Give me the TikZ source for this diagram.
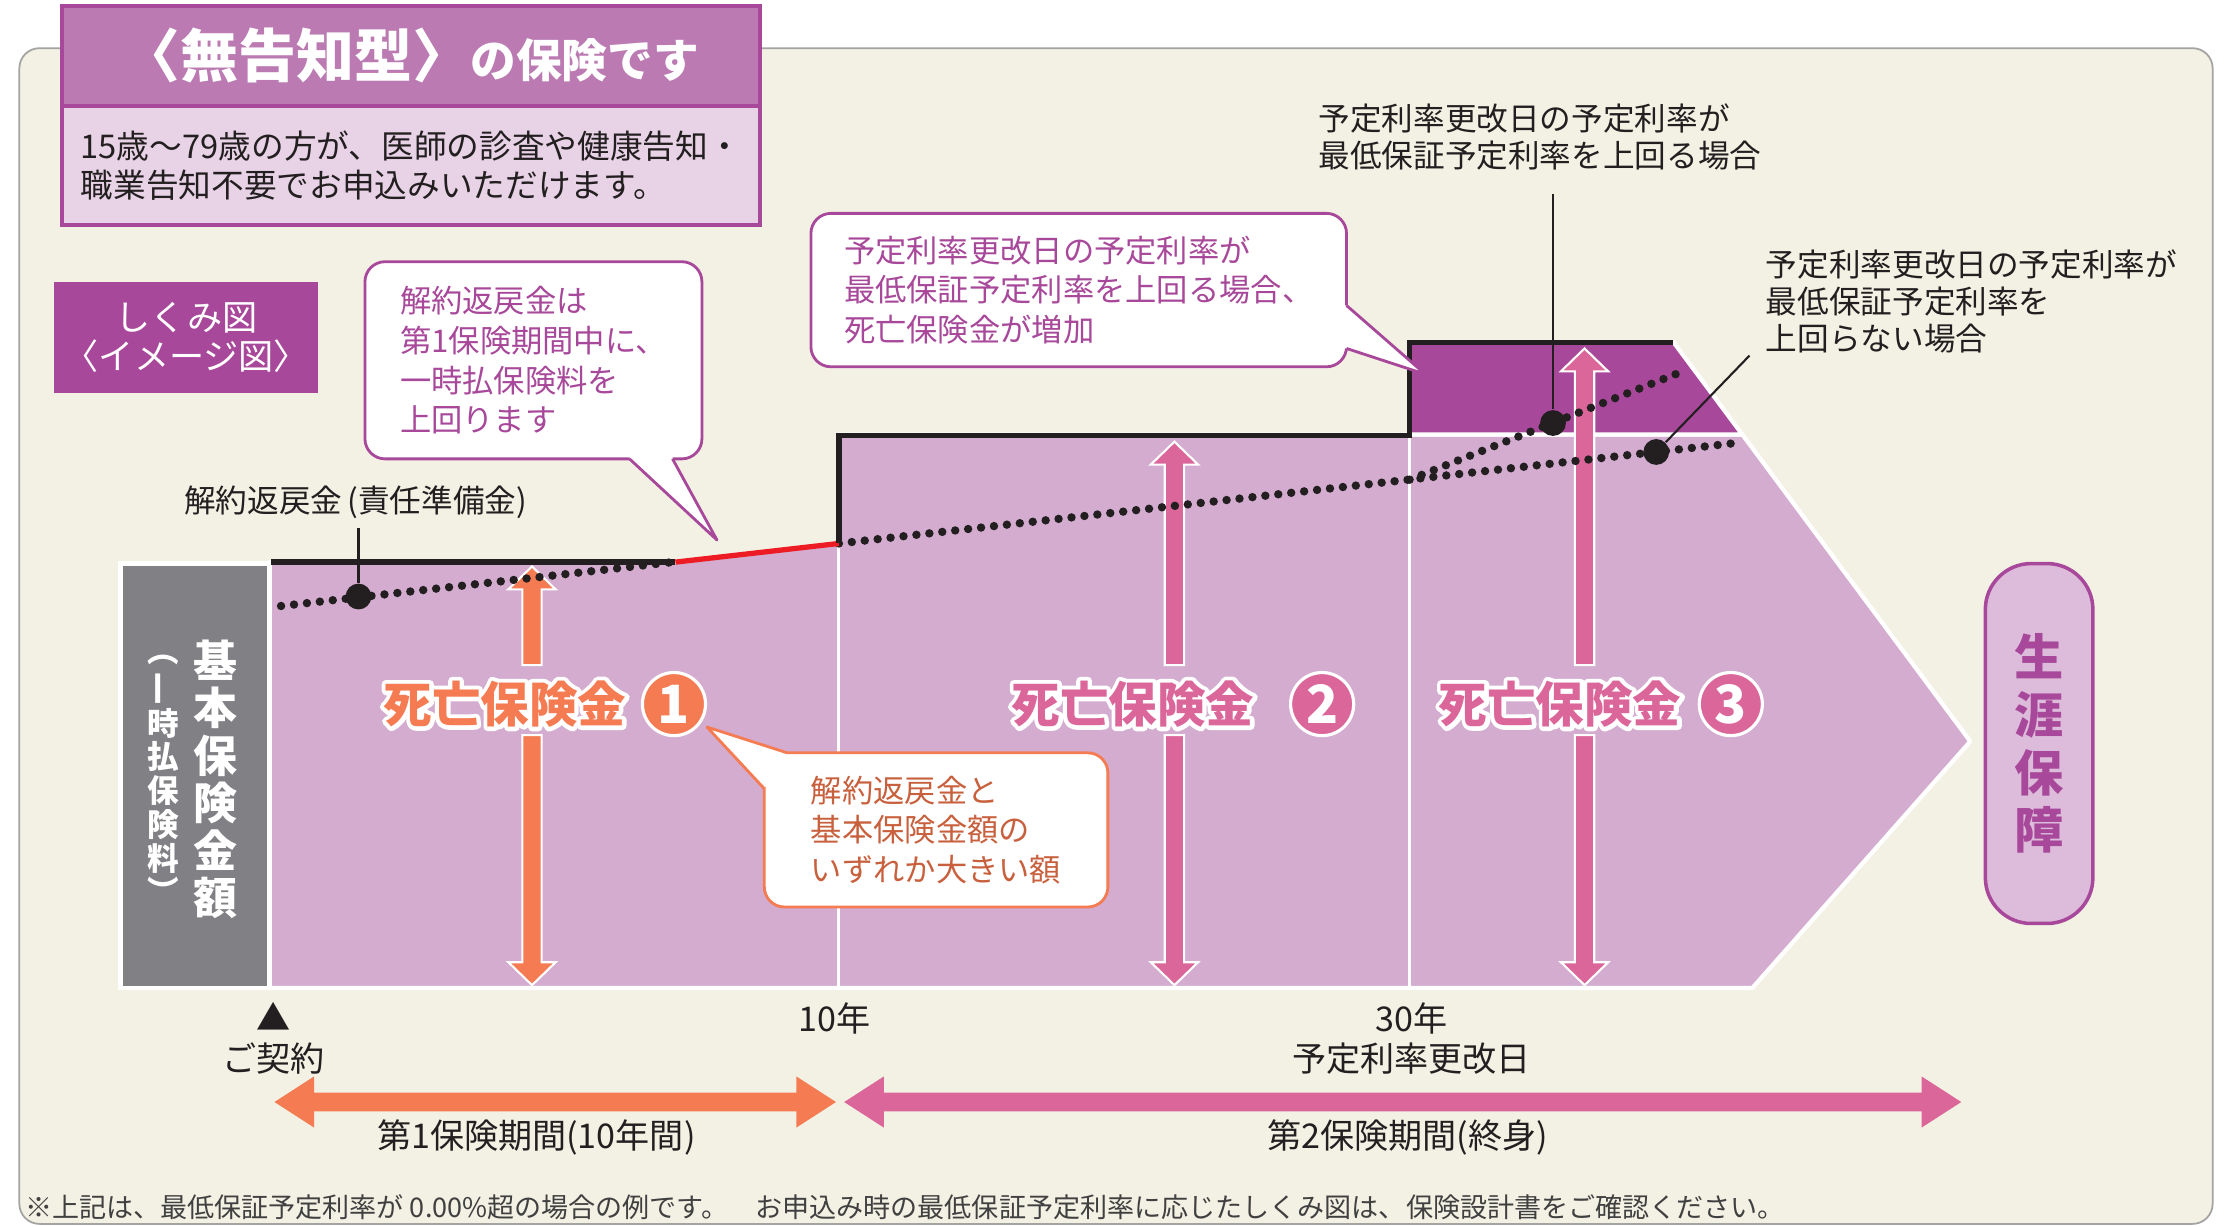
\documentclass[tikz,border=0pt]{standalone}
\usepackage{fontspec}
\setmainfont{Noto Sans CJK JP}
\usetikzlibrary{positioning}
\newlength{\dpx}
\setlength{\dpx}{0.1434mm}
\newcommand{\halotext}[1]{\rlap{\special{pdf:literal direct 1 1 1 RG 2.4 w 1 j 1 Tr}#1\special{pdf:literal direct 0 Tr}}#1}
\definecolor{bgcream}{HTML}{F3F1E4}
\definecolor{framegray}{HTML}{A3A3A0}
\definecolor{lilac}{HTML}{D3ACCF}
\definecolor{deeppurple}{HTML}{A8489A}
\definecolor{titlepurple}{HTML}{BB7AB2}
\definecolor{titlepink}{HTML}{E8D3E6}
\definecolor{boxgray}{HTML}{808085}
\definecolor{lifeorange}{HTML}{F47B52}
\definecolor{lifepink}{HTML}{DB6699}
\definecolor{calloutbrown}{HTML}{C8603D}
\definecolor{lifebox}{HTML}{DCBBDB}
\definecolor{reservered}{HTML}{ED1C24}
\definecolor{inkgray}{HTML}{231F20}
\definecolor{notegray}{HTML}{404040}
\tikzstyle{balloon}=[
	rectangle,
	rounded corners=14\dpx,
	fill=white,
	line width=0.8pt,
	align=left,
	inner sep=0pt,
	font=\fontsize{8.9}{11.3}\selectfont
]
\tikzstyle{plainlabel}=[
	inner sep=0pt,
	text=inkgray,
	font=\fontsize{9}{10.5}\selectfont
]
\tikzstyle{bottomlabel}=[
	inner sep=0pt,
	text=inkgray,
	font=\fontsize{9.7}{11.4}\selectfont
]
\tikzstyle{deathlabel}=[
	inner sep=0pt,
	font=\bfseries\fontsize{13.8}{14}\selectfont
]
\tikzstyle{numberdisc}=[
	circle,
	draw=white,
	line width=0.9pt,
	minimum size=44\dpx,
	inner sep=0pt,
	text=white,
	font=\bfseries\fontsize{15}{15}\selectfont
]
\tikzstyle{dotline}=[
	line width=2.4pt,
	line cap=round,
	dash pattern=on 0pt off 3.7pt,
	inkgray
]
\tikzstyle{stepline}=[
	line width=1.5pt,
	inkgray
]
\tikzstyle{bigdot}=[
	circle,
	fill=inkgray,
	inner sep=0pt,
	minimum size=18\dpx
]
\tikzstyle{pointer}=[
	line width=0.6pt,
	inkgray
]
\newcommand{\riseup}[3]{%
	\filldraw[fill=#3, draw=white, line width=0.6pt] (#1-6.75,463.8) -- (#1-6.75,#2+16) -- (#1-16.5,#2+16) -- (#1,#2) -- (#1+16.5,#2+16) -- (#1+6.75,#2+16) -- (#1+6.75,463.8) -- cycle;}
\newcommand{\dropdown}[2]{%
	\filldraw[fill=#2, draw=white, line width=0.6pt] (#1-6.75,512.6) -- (#1-6.75,671) -- (#1-16.5,671) -- (#1,687) -- (#1+16.5,671) -- (#1+6.75,671) -- (#1+6.75,512.6) -- cycle;}
\newcommand{\periodarrow}[3]{%
	\fill[#3] (#1,768.5) -- (#1+27.6,750.7) -- (#1+27.6,762) -- (#2-27.6,762) -- (#2-27.6,750.7) -- (#2,768.5) -- (#2-27.6,786.3) -- (#2-27.6,775) -- (#1+27.6,775) -- (#1+27.6,786.3) -- cycle;}

\begin{document}
\begin{tikzpicture}[x=0.1434mm, y=-0.1434mm]
\useasboundingbox (0,0) rectangle (1560,855);
\fill[white] (0,0) rectangle (1560,855);
\filldraw[fill=bgcream, draw=framegray, line width=0.5pt, rounded corners=14\dpx] (13.5,33.6) rectangle (1543,853.5);

\node[rectangle, fill=titlepurple, draw=deeppurple, line width=1.2pt, minimum width=487\dpx, minimum height=70\dpx, inner sep=0pt, text=white] (TitleBar) at (286.5,39)
	{{\bfseries\fontsize{16.5}{16}\selectfont 〈無告知型〉}{\bfseries\fontsize{13}{13}\selectfont の保険です}};
\node[rectangle, fill=titlepink, draw=deeppurple, line width=1.2pt, minimum width=487\dpx, minimum height=83\dpx, inner sep=0pt, align=left, text=inkgray, font=\fontsize{9.3}{11}\selectfont] (TitleBody) at (286.5,115.5)
	{15歳～79歳の方が、医師の診査や健康告知・\\職業告知不要でお申込みいただけます。};
\node[rectangle, fill=deeppurple, minimum width=184\dpx, minimum height=77\dpx, inner sep=0pt, text=white, align=center, font=\fontsize{10}{11}\selectfont] (DiagramTag) at (130,235.5)
	{しくみ図\\〈イメージ図〉};

\filldraw[fill=lilac, draw=white, line width=1.2pt, line join=round] (188,392) -- (471,392) -- (585,379) -- (585,303) -- (1215,303) -- (1374,517) -- (1222,689) -- (188,689) -- cycle;
\filldraw[fill=deeppurple, draw=white, line width=1.2pt] (983,238.6) -- (1167,238.6) -- (1215,303) -- (983,303) -- cycle;
\draw[white, line width=0.9pt] (585,379) -- (585,689) (983,303) -- (983,689);

\node[rectangle, fill=boxgray, draw=white, line width=1.2pt, minimum width=104\dpx, minimum height=296\dpx, inner sep=0pt] (BaseBox) at (136,541) {};
\node[inner sep=0pt, text=white, align=center, font=\bfseries\fontsize{12.5}{13.5}\selectfont] (BaseAmount) at (150,543.5) {基\\本\\保\\険\\金\\額};
\node[inner sep=0pt, text=white, align=center, font=\bfseries\fontsize{9}{9.6}\selectfont] (BasePremium) at (114,543.5) {︵\\\rotatebox[origin=c]{90}{一}\\時\\払\\保\\険\\料\\︶};

\riseup{371}{395}{lifeorange}
\dropdown{371}{lifeorange}
\riseup{819}{308}{lifepink}
\dropdown{819}{lifepink}
\riseup{1105}{243}{lifepink}
\dropdown{1105}{lifepink}

\draw[dotline] (196,422.6) -- (471,391.8);
\draw[dotline] (585,379) -- (1210,309);
\draw[dotline] (983,334.5) -- (1176,258);

\draw[stepline] (189,392) -- (471,392);
\draw[line width=1.5pt, reservered] (471,392) -- (585,379);
\draw[stepline] (585,379) -- (585,303.5) -- (983,303.5) -- (983,238.6) -- (1167,238.6);

\node[plainlabel] (ReserveLabel) at (248,350) {解約返戻金\,(責任準備金)};
\node[bigdot] (ReserveDot) at (250,416) {};
\coordinate (ReserveTip) at (250,368);
\draw[pointer] (ReserveTip) -- (ReserveDot);

\node[plainlabel, anchor=west, align=left] (RaisedNote) at (919,95.2) {予定利率更改日の予定利率が\\最低保証予定利率を上回る場合};
\node[bigdot] (RaisedDot) at (1083,295) {};
\coordinate (RaisedTip) at (1083,135);
\draw[pointer] (RaisedTip) -- (RaisedDot);

\node[plainlabel, anchor=west, align=left] (FlatNote) at (1231,210) {予定利率更改日の予定利率が\\最低保証予定利率を\\上回らない場合};
\node[bigdot] (FlatDot) at (1155,315.2) {};
\coordinate (FlatTip) at (1220,248);
\draw[pointer] (FlatTip) -- (FlatDot);

\node[deathlabel, text=lifeorange] (DeathOne) at (352,491) {\halotext{死亡保険金}};
\node[numberdisc, fill=lifeorange] (NumOne) at (470,491) {1};
\node[deathlabel, text=lifepink] (DeathTwo) at (790,491) {\halotext{死亡保険金}};
\node[numberdisc, fill=lifepink] (NumTwo) at (922,491) {2};
\node[deathlabel, text=lifepink] (DeathThree) at (1088,491) {\halotext{死亡保険金}};
\node[numberdisc, fill=lifepink] (NumThree) at (1207,491) {3};

\node[rectangle, fill=lifebox, draw=deeppurple, line width=1pt, rounded corners=32\dpx, minimum width=75\dpx, minimum height=251\dpx, inner sep=0pt, text=deeppurple, align=center, font=\bfseries\fontsize{14}{16.4}\selectfont] (LifelongBox) at (1422,518.5)
	{生\\涯\\保\\障};

\node[balloon, draw=deeppurple, text=deeppurple, minimum width=235\dpx, minimum height=137.5\dpx] (SurrenderNote) at (372,251.25)
	{解約返戻金は\\第1保険期間中に、\\一時払保険料を\\上回ります};
\fill[white] (439,316) -- (439,320) -- (500,376.6) -- (469,320) -- (469,316) -- cycle;
\draw[deeppurple, line width=0.8pt, line join=round] (439,320) -- (500,376.6) -- (469,320);

\node[balloon, draw=deeppurple, text=deeppurple, minimum width=373.5\dpx, minimum height=107\dpx] (IncreaseNote) at (752.25,202.3)
	{予定利率更改日の予定利率が\\最低保証予定利率を上回る場合、\\死亡保険金が増加};
\fill[white] (935,213) -- (939,213) -- (994,261) -- (939,243) -- (935,243) -- cycle;
\draw[deeppurple, line width=0.8pt, line join=round] (939,213) -- (994,261) -- (939,243);

\node[balloon, draw=lifeorange, text=calloutbrown, minimum width=239.6\dpx, minimum height=107.5\dpx] (GreaterNote) at (652.8,578.75)
	{解約返戻金と\\基本保険金額の\\いずれか大きい額};
\fill[white] (549,525) -- (493,507) -- (533,550) -- cycle;
\draw[lifeorange, line width=0.8pt, line join=round] (549,525) -- (493,507) -- (533,550);

\node[bottomlabel] (StartMark) at (190.7,709) {▲};
\node[bottomlabel] (StartLabel) at (191,738) {ご契約};
\node[bottomlabel] (TenYear) at (582,710) {10年};
\node[bottomlabel, align=center] (ThirtyYear) at (984.5,724) {30年\\予定利率更改日};

\periodarrow{191.4}{583}{lifeorange}
\periodarrow{588.7}{1367.7}{lifepink}
\node[bottomlabel] (PeriodOne) at (374,793) {第1保険期間(10年間)};
\node[bottomlabel] (PeriodTwo) at (981.5,793) {第2保険期間(終身)};

\node[inner sep=0pt, anchor=west, text=notegray, font=\fontsize{7.7}{9}\selectfont] (Footnote) at (17,842)
	{※上記は、最低保証予定利率が 0.00\%超の場合の例です。　お申込み時の最低保証予定利率に応じたしくみ図は、保険設計書をご確認ください。};
\end{tikzpicture}
\end{document}
